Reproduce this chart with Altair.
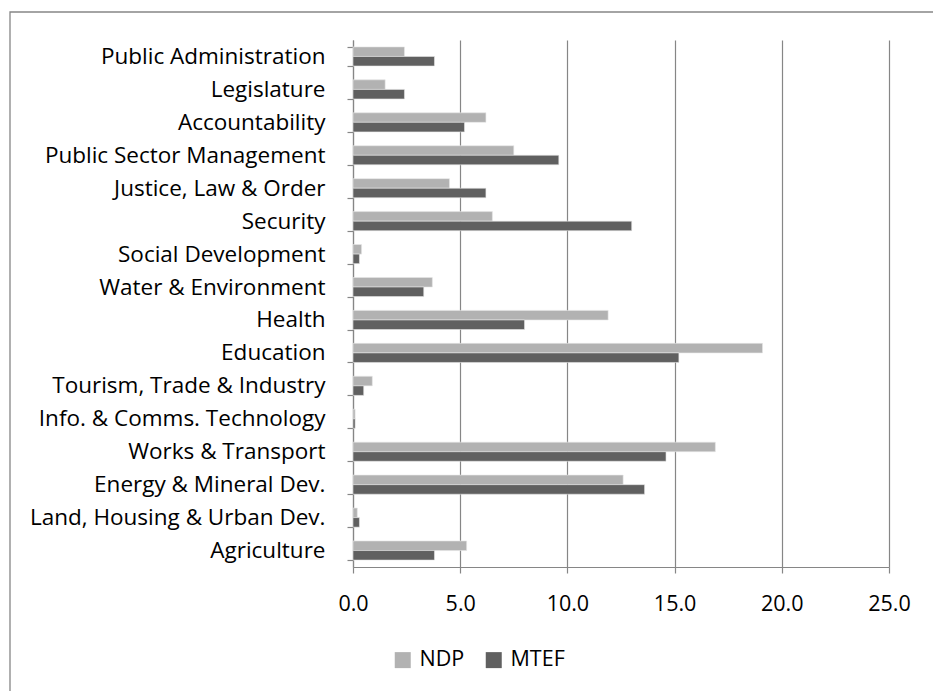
import altair as alt
import pandas as pd

# Sector shares (%) under the NDP and the MTEF, listed top to bottom
sectors = [
    "Public Administration",
    "Legislature",
    "Accountability",
    "Public Sector Management",
    "Justice, Law & Order",
    "Security",
    "Social Development",
    "Water & Environment",
    "Health",
    "Education",
    "Tourism, Trade & Industry",
    "Info. & Comms. Technology",
    "Works & Transport",
    "Energy & Mineral Dev.",
    "Land, Housing & Urban Dev.",
    "Agriculture",
]
ndp = [2.4, 1.5, 6.2, 7.5, 4.5, 6.5, 0.4, 3.7, 11.9, 19.1, 0.9, 0.1, 16.9, 12.6, 0.2, 5.3]
mtef = [3.8, 2.4, 5.2, 9.6, 6.2, 13.0, 0.3, 3.3, 8.0, 15.2, 0.5, 0.1, 14.6, 13.6, 0.3, 3.8]
series = ["NDP", "MTEF"]
series_colors = ["#b2b2b2", "#606060"]
x_ticks = [0, 5, 10, 15, 20, 25]

rows = []
for i, s in enumerate(sectors):
    rows.append({"sector": s, "series": "NDP", "share": ndp[i]})
    rows.append({"sector": s, "series": "MTEF", "share": mtef[i]})
df = pd.DataFrame(rows)

FONT = "Open Sans"
FS = 21.5
FS_Y = 22.5
GRAY = "#868686"

bars = alt.Chart(df).mark_bar(stroke="#e6e6e6", strokeWidth=0.6).encode(
    x=alt.X(
        "share:Q",
        scale=alt.Scale(domain=[0, 25], nice=False),
        axis=alt.Axis(
            values=x_ticks,
            format=".1f",
            title=None,
            grid=True,
            gridColor=GRAY,
            gridWidth=1.2,
            domainColor=GRAY,
            domainWidth=1.2,
            tickColor=GRAY,
            tickWidth=1.2,
            tickSize=6,
            labelFlush=False,
            labelPadding=20,
            labelFont=FONT,
            labelFontSize=FS,
            labelColor="#000000",
        ),
    ),
    y=alt.Y(
        "sector:N",
        sort=sectors,
        scale=alt.Scale(paddingInner=0.42, paddingOuter=0.21),
        axis=alt.Axis(
            title=None,
            grid=False,
            tickBand="extent",
            domainColor=GRAY,
            domainWidth=1.2,
            tickColor=GRAY,
            tickWidth=1.2,
            tickSize=6,
            labelPadding=22,
            labelFont=FONT,
            labelFontSize=FS_Y,
            labelColor="#000000",
            labelLimit=400,
        ),
    ),
    yOffset=alt.YOffset("series:N", sort=series),
    color=alt.Color(
        "series:N",
        sort=series,
        scale=alt.Scale(domain=series, range=series_colors),
        legend=alt.Legend(
            title=None,
            orient="none",
            legendX=39,
            legendY=609,
            direction="horizontal",
            symbolType="square",
            symbolSize=256,
            symbolStrokeWidth=0,
            labelFont=FONT,
            labelFontSize=FS,
            labelColor="#000000",
            labelOffset=6,
            columnPadding=18,
        ),
    ),
)

# Outer chart frame
frame = alt.Chart(pd.DataFrame({"f": [0]})).mark_rect(
    fill=None, stroke=GRAY, strokeWidth=1.3
).encode(
    x=alt.value(-343),
    x2=alt.value(620),
    y=alt.value(-28),
    y2=alt.value(680),
)

chart = (
    alt.layer(frame, bars)
    .properties(
        width=536,
        height=527,
        autosize=alt.AutoSizeParams(type="none"),
        padding={"left": 353, "top": 40, "right": 44, "bottom": 124},
        background="white",
    )
    .configure_view(stroke=None)
)

chart.save("out.html", embed_options={"renderer": "svg", "actions": False})
